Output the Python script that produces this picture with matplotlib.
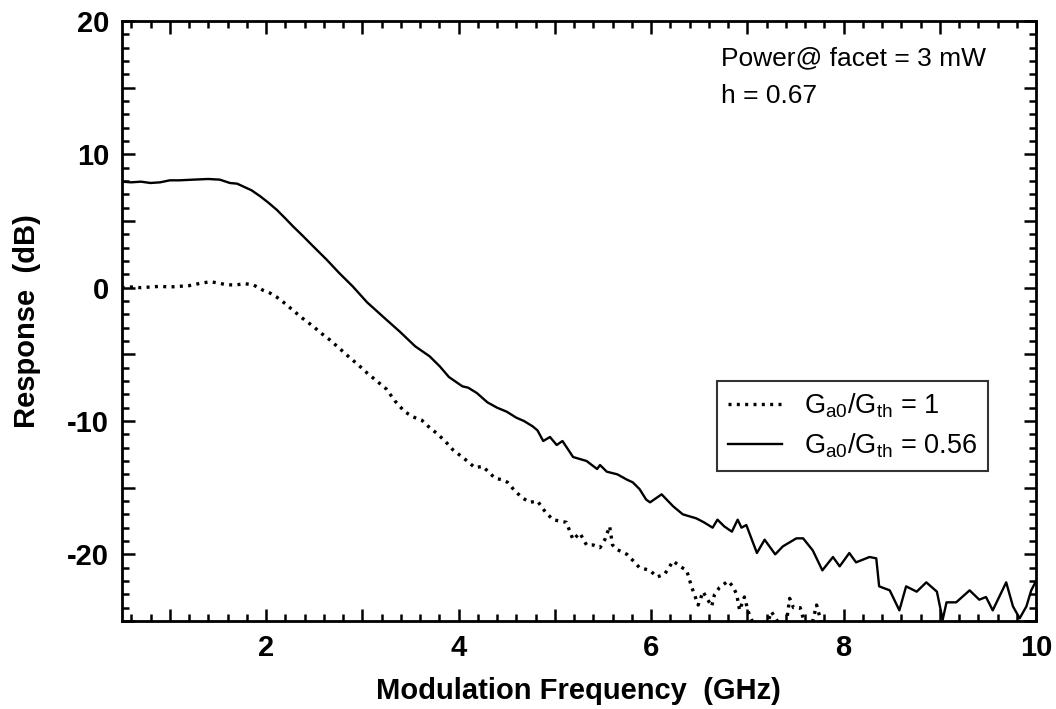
import numpy as np
import matplotlib
matplotlib.use("Agg")
import matplotlib.pyplot as plt
from matplotlib.ticker import MultipleLocator, FuncFormatter

plt.rcParams['font.family'] = ['Liberation Sans', 'DejaVu Sans']
plt.rcParams['mathtext.default'] = 'regular'

# Ga0/Gth = 0.56 (solid)
freq_solid = [0.5, 0.6, 0.7, 0.8, 0.9, 1.0, 1.1, 1.24, 1.4, 1.52,
              1.625, 1.7, 1.76, 1.85, 1.94, 2.02, 2.11, 2.2, 2.28, 2.38,
              2.49, 2.56, 2.63, 2.76, 2.90, 3.05, 3.25, 3.39, 3.55, 3.70,
              3.805, 3.9, 4.04, 4.1, 4.19, 4.3, 4.40, 4.5, 4.60, 4.68,
              4.77, 4.82, 4.88, 4.95, 5.02, 5.08, 5.19, 5.33, 5.44, 5.47,
              5.54, 5.65, 5.75, 5.81, 5.88, 5.95, 5.99, 6.11, 6.23, 6.33,
              6.47, 6.55, 6.64, 6.69, 6.76, 6.84, 6.90, 6.94, 6.99, 7.10,
              7.18, 7.29, 7.37, 7.51, 7.58, 7.68, 7.78, 7.89, 7.96, 8.06,
              8.13, 8.27, 8.34, 8.37, 8.48, 8.58, 8.65, 8.76, 8.86, 8.97,
              9.03, 9.07, 9.17, 9.31, 9.41, 9.48, 9.55, 9.69, 9.76, 9.83,
              9.90, 9.95, 10.0]
resp_solid = [7.95, 7.9, 7.95, 7.85, 7.9, 8.05, 8.05, 8.1, 8.15, 8.1,
              7.85, 7.8, 7.6, 7.3, 6.85, 6.4, 5.85, 5.2, 4.6, 3.9,
              3.1, 2.6, 2.1, 1.1, 0.1, -1.1, -2.4, -3.3, -4.4, -5.15,
              -5.9, -6.7, -7.4, -7.5, -7.9, -8.6, -9.0, -9.3, -9.75, -10.0,
              -10.4, -10.7, -11.5, -11.2, -11.8, -11.5, -12.7, -13.0, -13.6, -13.3,
              -13.8, -14.0, -14.4, -14.6, -15.1, -15.9, -16.1, -15.5, -16.4, -17.0,
              -17.3, -17.6, -18.0, -17.4, -17.9, -18.3, -17.4, -18.0, -17.8, -19.9,
              -18.9, -20.0, -19.4, -18.8, -18.8, -19.7, -21.2, -20.2, -20.9, -19.9,
              -20.6, -20.2, -20.3, -22.4, -22.7, -24.2, -22.4, -22.8, -22.1, -22.8,
              -24.9, -23.6, -23.6, -22.7, -23.4, -23.2, -24.2, -22.1, -23.9, -24.8,
              -23.9, -22.7, -22.0]

# Ga0/Gth = 1 (dotted)
freq_dot = [0.5, 0.6, 0.7, 0.8, 0.9, 1.0, 1.1, 1.2, 1.3, 1.42,
            1.5, 1.59, 1.68, 1.78, 1.87, 1.97, 2.04, 2.11, 2.2, 2.28,
            2.38, 2.49, 2.57, 2.66, 2.77, 2.87, 2.96, 3.05, 3.15, 3.25,
            3.34, 3.44, 3.53, 3.62, 3.70, 3.77, 3.86, 3.94, 4.02, 4.09,
            4.17, 4.25, 4.31, 4.38, 4.45, 4.51, 4.58, 4.66, 4.74, 4.82,
            4.90, 4.98, 5.05, 5.12, 5.19, 5.26, 5.33, 5.40, 5.47, 5.52,
            5.57, 5.60, 5.65, 5.75, 5.83, 5.88, 5.99, 6.06, 6.14, 6.23,
            6.30, 6.37, 6.42, 6.49, 6.54, 6.63, 6.66, 6.71, 6.80, 6.85,
            6.89, 6.92, 6.97, 7.01, 7.08, 7.18, 7.25, 7.33, 7.40, 7.44,
            7.48, 7.55, 7.60, 7.66, 7.72, 7.78, 7.9, 8.2, 8.6, 9.0,
            9.5, 10.0]
resp_dot = [0.0, 0.05, 0.0, 0.05, 0.1, 0.05, 0.1, 0.15, 0.3, 0.45,
            0.35, 0.22, 0.2, 0.3, 0.2, -0.2, -0.4, -0.7, -1.2, -1.7,
            -2.3, -2.9, -3.4, -3.9, -4.6, -5.25, -5.8, -6.4, -7.0, -7.6,
            -8.5, -9.3, -9.7, -9.95, -10.5, -10.9, -11.5, -12.15, -12.6, -13.0,
            -13.5, -13.4, -13.8, -14.3, -14.4, -14.6, -15.2, -15.75, -16.1, -16.0,
            -16.8, -17.4, -17.5, -17.6, -18.9, -18.4, -19.3, -19.3, -19.5, -18.9,
            -17.9, -19.3, -19.65, -20.0, -20.6, -21.0, -21.2, -21.7, -21.5, -20.5,
            -20.9, -21.2, -22.4, -23.8, -22.8, -23.9, -23.0, -22.5, -22.0, -22.4,
            -23.0, -24.2, -23.2, -24.3, -25.5, -25.8, -24.3, -25.2, -25.5, -23.3,
            -24.0, -24.0, -25.3, -25.6, -23.8, -25.4, -26.5, -28.0, -29.0, -30.0,
            -31.0, -32.0]

labels = [r'G$_{a0}$/G$_{th}$ = 1', r'G$_{a0}$/G$_{th}$ = 0.56']

fig = plt.figure(figsize=(10.56, 7.09), dpi=100)
ax = fig.add_axes([0.1152, 0.1241, 0.8659, 0.8463])

ax.plot(freq_dot, resp_dot, color='black', lw=2.4,
        linestyle=(0, (0.9, 1.6)), label=labels[0])
ax.plot(freq_solid, resp_solid, color='black', lw=1.7, label=labels[1])

ax.set_xlim(0.5, 10)
ax.set_ylim(-25, 20)

ax.xaxis.set_major_locator(MultipleLocator(1))
ax.xaxis.set_minor_locator(MultipleLocator(0.2))
ax.xaxis.set_major_formatter(FuncFormatter(lambda v, p: '%d' % v if int(round(v)) % 2 == 0 else ''))
ax.yaxis.set_major_locator(MultipleLocator(5))
ax.yaxis.set_minor_locator(MultipleLocator(1))
ax.yaxis.set_major_formatter(FuncFormatter(lambda v, p: '%d' % v if int(round(v)) % 10 == 0 else ''))

ax.tick_params(which='both', direction='in', top=True, right=True, width=1.8, color='black')
ax.tick_params(which='major', length=9, labelsize=21, pad=9)
ax.tick_params(which='minor', length=5)
for lbl in ax.get_xticklabels() + ax.get_yticklabels():
    lbl.set_fontweight('bold')
for sp in ax.spines.values():
    sp.set_linewidth(2.0)

ax.set_xlabel('Modulation Frequency  (GHz)', fontsize=21, fontweight='bold', labelpad=11)
ax.set_ylabel('Response  (dB)', fontsize=21, fontweight='bold', labelpad=19)

fig.text(721 / 1056, 1 - 65 / 709, 'Power@ facet = 3 mW', fontsize=19, va='baseline')
fig.text(721 / 1056, 1 - 103 / 709, 'h = 0.67', fontsize=19, va='baseline')

leg = ax.legend(loc='upper left', bbox_to_anchor=(717 / 1056, 1 - 381 / 709),
                bbox_transform=fig.transFigure, fontsize=19.5, frameon=True,
                fancybox=False, edgecolor='black', handlelength=2.0,
                handletextpad=0.8, labelspacing=0.4, borderpad=0.4,
                borderaxespad=0)
leg.get_frame().set_linewidth(1.5)

fig.savefig('out.png', dpi=100)
